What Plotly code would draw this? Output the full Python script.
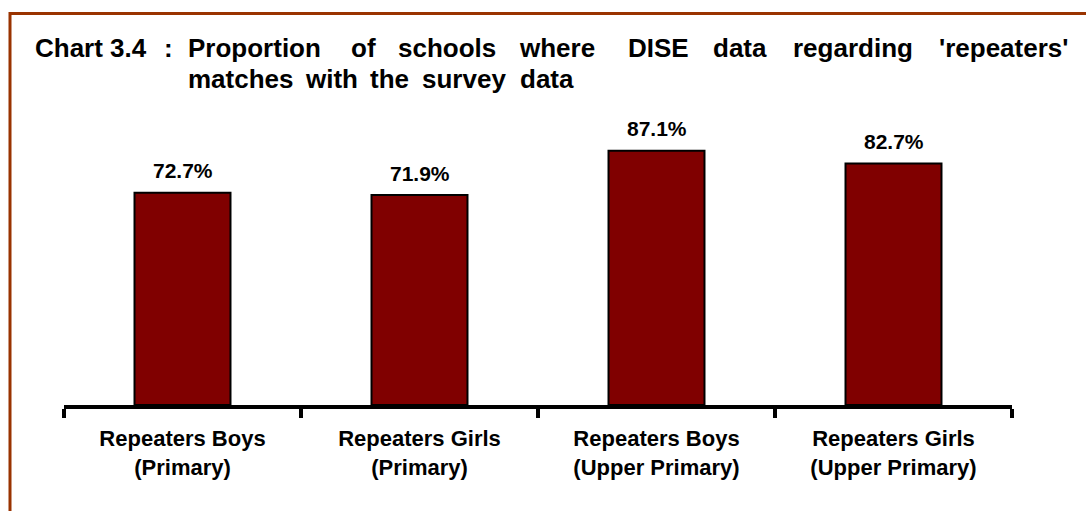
import plotly.graph_objects as go

categories = ["Repeaters Boys<br>(Primary)", "Repeaters Girls<br>(Primary)",
              "Repeaters Boys<br>(Upper Primary)", "Repeaters Girls<br>(Upper Primary)"]
values = [72.7, 71.9, 87.1, 82.7]
value_labels = ["72.7%", "71.9%", "87.1%", "82.7%"]

title_line1_words = ["Chart 3.4", ":", "Proportion", "of", "schools", "where",
                     "DISE", "data", "regarding", "'repeaters'"]
title_line1_px = [34, 163, 187, 350, 397, 518, 627, 712, 792, 938]
title_line2_words = ["matches", "with", "the", "survey", "data"]
title_line2_px = [187, 304, 369, 421, 519]

W, H = 1086, 511
L, R, T, B = 64, 74, 113, 106
pw, ph = W - L - R, H - T - B

def px_x(px):
    return (px - L) / pw

def px_y(py):
    return (H - B - py) / ph

FONT = "Liberation Sans, Arial, sans-serif"

fig = go.Figure()
fig.add_trace(go.Bar(
    x=categories, y=values,
    marker=dict(color="#800000", line=dict(color="black", width=2)),
    cliponaxis=False, width=0.405, hoverinfo="skip",
))

annotations = []
for c, v, t in zip(categories, values, value_labels):
    annotations.append(dict(text=t, x=c, y=v, xref="x", yref="y", yshift=22,
                            xanchor="center", yanchor="middle", showarrow=False,
                            font=dict(family=FONT, size=21, color="black", weight="bold")))
for words, pos, yc in ((title_line1_words, title_line1_px, 48),
                       (title_line2_words, title_line2_px, 79)):
    for w, p in zip(words, pos):
        annotations.append(dict(text=w, x=px_x(p), y=px_y(yc), xref="paper", yref="paper",
                                xanchor="left", yanchor="middle", showarrow=False,
                                borderpad=0,
                                font=dict(family=FONT, size=26, color="black", weight="bold")))

fig.update_layout(
    width=W, height=H, margin=dict(l=L, r=R, t=T, b=B, pad=0),
    plot_bgcolor="white", paper_bgcolor="white", showlegend=False,
    annotations=annotations,
    xaxis=dict(type="category", showline=True, linecolor="black",
               linewidth=4, ticks="outside", tickson="boundaries", ticklen=9,
               tickwidth=4, tickcolor="black", showgrid=False, zeroline=False,
               ticklabelstandoff=11,
               tickfont=dict(family=FONT, size=22, color="black", weight="bold")),
    yaxis=dict(range=[0, 100], visible=False, showgrid=False, zeroline=False),
    shapes=[dict(type="rect", xref="paper", yref="paper",
                 x0=px_x(10), x1=px_x(1100), y0=px_y(530), y1=px_y(13.5),
                 line=dict(color="#993300", width=3), fillcolor="rgba(0,0,0,0)", layer="below")],
)

fig.write_html("out.html", config={"displayModeBar": False},
               post_script="document.body.style.margin='0';")
